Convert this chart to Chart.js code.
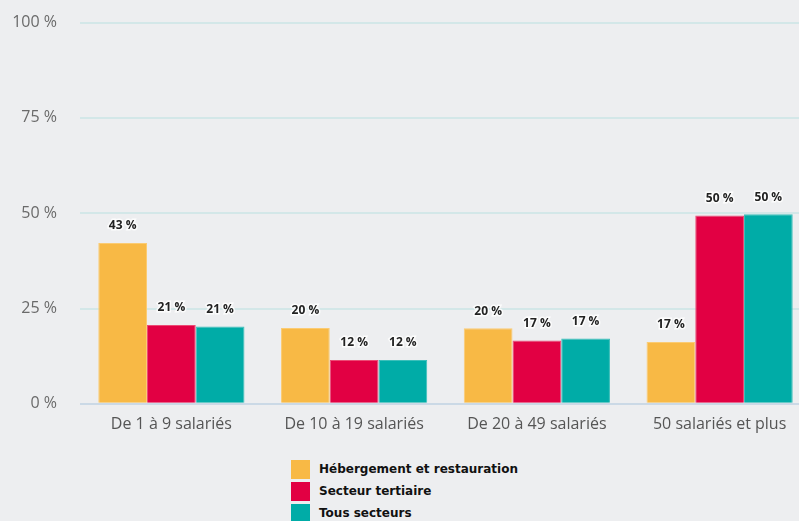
<!DOCTYPE html>
<html>
<head>
<meta charset="utf-8">
<script src="https://cdn.jsdelivr.net/npm/chart.js@4/dist/chart.umd.min.js"></script>
<style>
  html, body { margin:0; padding:0; background:#edeef0; overflow:hidden; width:799px; height:521px; }
  #wrap { position:absolute; left:0; top:-10px; width:812px; height:457px; }
  #legend { position:absolute; left:291px; top:458px; font-family:"DejaVu Sans", sans-serif; font-weight:bold; font-size:12px; color:#111; }
  .item { display:flex; align-items:center; height:22px; }
  .box { width:19px; height:19px; margin-right:9px; }
</style>
</head>
<body>
<div id="wrap"><canvas id="c"></canvas></div>
<div id="legend"></div>
<script>
const categories = ['De 1 à 9 salariés', 'De 10 à 19 salariés', 'De 20 à 49 salariés', '50 salariés et plus'];
const seriesNames = ['Hébergement et restauration', 'Secteur tertiaire', 'Tous secteurs'];
const hebergement = [42.2, 19.9, 19.8, 16.2];
const tertiaire = [20.7, 11.5, 16.6, 49.4];
const tousSecteurs = [20.3, 11.5, 17.1, 49.7];
const hebergementLabels = [43, 20, 20, 17];
const tertiaireLabels = [21, 12, 17, 50];
const tousSecteursLabels = [21, 12, 17, 50];
const yTicks = [0, 25, 50, 75, 100];
const colors = ['#f8b945', '#e20043', '#00aca7'];
const borders = ['#fbcb72', '#ec4a74', '#3cbfba'];

const allValues = [hebergement, tertiaire, tousSecteurs];
const allLabels = [hebergementLabels, tertiaireLabels, tousSecteursLabels];

const valueLabelPlugin = {
  id: 'valueLabels',
  afterDatasetsDraw(chart) {
    const ctx = chart.ctx;
    ctx.save();
    ctx.font = 'bold 12px "Open Sans", sans-serif';
    ctx.textAlign = 'center';
    ctx.textBaseline = 'middle';
    chart.data.datasets.forEach((ds, di) => {
      const meta = chart.getDatasetMeta(di);
      meta.data.forEach((bar, i) => {
        const txt = allLabels[di][i] + ' %';
        const y = bar.y - 17;
        ctx.lineWidth = 3;
        ctx.strokeStyle = 'rgba(255,255,255,0.8)';
        ctx.strokeText(txt, bar.x, y);
        ctx.fillStyle = '#222';
        ctx.fillText(txt, bar.x, y);
      });
    });
    ctx.restore();
  }
};

const chart = new Chart(document.getElementById('c'), {
  type: 'bar',
  data: {
    labels: categories,
    datasets: seriesNames.map((name, i) => ({
      label: name,
      data: allValues[i],
      backgroundColor: colors[i],
      borderColor: borders[i],
      borderWidth: 1,
      categoryPercentage: 0.8,
      barPercentage: 1.0
    }))
  },
  options: {
    responsive: true,
    maintainAspectRatio: false,
    animation: false,
    layout: { padding: { left: 11, right: 1, top: 3, bottom: 2 } },
    plugins: { legend: { display: false }, tooltip: { enabled: false } },
    scales: {
      x: {
        grid: { display: false, drawTicks: false },
        border: { display: false },
        ticks: { color: '#555', font: { family: '"Open Sans", sans-serif', size: 16 }, padding: 11, maxRotation: 0 }
      },
      y: {
        min: 0, max: 100,
        afterBuildTicks(axis) { axis.ticks = yTicks.map(v => ({ value: v })); },
        afterFit(axis) { axis.width = 69; },
        grid: {
          drawTicks: false,
          lineWidth: 2,
          color: ctx => ctx.tick && ctx.tick.value === 0 ? '#cbd9e6' : '#d3e7e8'
        },
        border: { display: false },
        ticks: { color: '#6a6a6a', font: { family: '"Open Sans", sans-serif', size: 16 }, padding: 23, callback: v => v + ' %' }
      }
    }
  },
  plugins: [valueLabelPlugin]
});

const legend = document.getElementById('legend');
seriesNames.forEach((name, i) => {
  const item = document.createElement('div');
  item.className = 'item';
  const box = document.createElement('div');
  box.className = 'box';
  box.style.background = colors[i];
  const span = document.createElement('span');
  span.textContent = name;
  item.appendChild(box);
  item.appendChild(span);
  legend.appendChild(item);
});
</script>
</body>
</html>
